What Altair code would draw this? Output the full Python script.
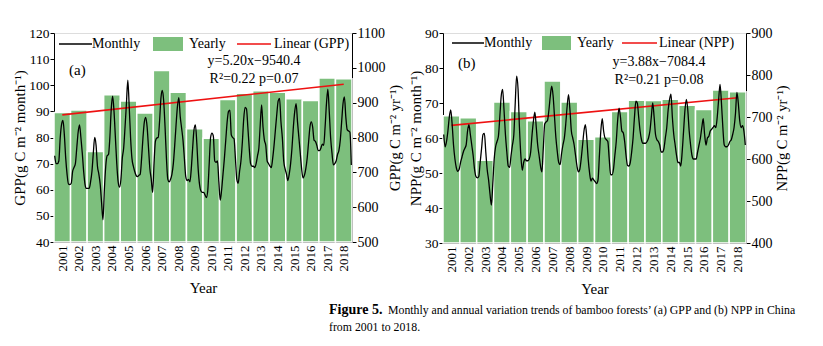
import altair as alt
import pandas as pd

years = list(range(2001, 2019))

# Monthly GPP (g C m-2 month-1), one row per year, Jan..Dec
gpp_monthly = [
    [73, 70, 70, 71, 79.8, 85, 86.5, 81, 72, 65.8, 62.2, 62],
    [62.5, 67, 68.5, 70, 76, 82, 84.8, 80, 74, 67, 62, 60.5],
    [60.5, 60.5, 63, 67, 74, 80, 77, 69, 66, 62, 55, 48.5],
    [60, 69, 73, 73.5, 80, 91, 95.8, 90, 80, 70, 63, 61],
    [64, 72, 76, 84, 93, 102, 92, 80, 72, 69, 67, 65.5],
    [65, 65.5, 66, 72, 80, 86, 87.7, 84, 76, 68, 64, 59],
    [70, 78.5, 79.8, 80, 86, 95, 98, 94, 84, 72, 64, 63],
    [64, 66, 70, 77, 85, 92, 95.3, 88, 83.6, 79, 72, 65],
    [63.5, 64, 63, 68, 76, 83, 84.8, 78, 68, 62, 59.5, 59],
    [59, 58, 57, 60, 70, 80, 81.7, 80.5, 71, 70.5, 71, 63],
    [56, 60, 66, 72, 79, 86, 90, 90.5, 81, 80, 79.5, 72],
    [64, 62.5, 67, 71, 78, 87, 91.5, 91, 84, 76, 70, 69],
    [69, 68.5, 70, 73, 76, 85, 92.5, 84, 79, 77, 71, 70],
    [69, 68.5, 72, 77, 83, 89, 94, 95, 86, 80, 71, 68],
    [66, 63.5, 66, 70, 76, 84, 90, 93, 86, 80, 74, 68],
    [64.5, 65.5, 68, 72, 78, 84, 86, 84, 79, 78.5, 77, 75],
    [75, 76, 77.5, 77, 84, 93, 98.5, 90, 80, 74, 69.5, 70],
    [71, 73.5, 75, 79, 86, 93, 95.5, 88, 83, 82.5, 82, 69.5],
]

# Monthly NPP (g C m-2 month-1)
npp_monthly = [
    [61, 57.5, 59, 62, 66, 68, 64, 58, 54, 51.5, 50.5, 51],
    [53, 54.5, 56, 57, 58, 62, 63.8, 61, 58, 55, 51, 49],
    [48.6, 49, 53, 57, 61, 61.3, 56, 51, 48, 44, 40.8, 47],
    [54, 57.5, 59, 60.5, 66, 72, 73.9, 68, 61, 56, 52, 51.6],
    [55, 58, 61, 70, 77.7, 74, 63, 55, 50.8, 53, 54, 53.5],
    [53.5, 54, 56, 61, 65, 67.4, 63, 58, 55, 52, 50.3, 57],
    [64, 64.6, 65, 68, 72, 74.8, 72, 66, 60, 56, 53, 52.4],
    [55.5, 58, 60, 64, 69, 72.4, 68, 62, 60, 58, 55, 52],
    [50.3, 51, 54, 58, 62, 63.8, 60, 54, 50, 47.7, 48.5, 48],
    [47.5, 47, 48, 55, 62, 65.5, 62, 60, 59.5, 59, 54, 49.5],
    [49.5, 51, 55, 59, 65, 68.5, 66, 62, 61.5, 59, 55, 52.2],
    [52, 53, 56, 60, 66, 70.5, 70, 66, 62, 59.5, 58.5, 58.5],
    [58.5, 59, 60, 62, 66, 70, 66, 61, 59.5, 59, 58, 56],
    [56, 57, 60, 63, 68, 71, 72.5, 66, 61, 58, 55, 53],
    [53, 52, 56, 62, 68, 71, 68, 62, 58, 55, 54, 54],
    [54, 56, 58, 60, 63, 65.5, 61, 58, 60, 60.5, 62, 62.5],
    [63, 63.5, 63, 66, 71, 75.3, 70, 63, 58, 57.5, 57.5, 58],
    [59, 59.5, 61, 63, 67, 73, 70, 65, 63, 63.5, 62, 58],
]

# Yearly totals (g C m-2 yr-1)
gpp_yearly = [872, 879, 760, 923, 905, 870, 992, 930, 825, 798, 909, 927, 934, 930, 911, 906, 971, 969]
npp_yearly = [703, 698, 597, 736, 713, 691, 786, 736, 647, 653, 713, 740, 739, 742, 728, 718, 764, 760]

# Linear trend values at first and last year
trend_years = [2001, 2018]
gpp_trend = [865, 953]
npp_trend = [680, 746]

gpp_left_ticks = [40, 50, 60, 70, 80, 90, 100, 110, 120]
gpp_right_ticks = [500, 600, 700, 800, 900, 1000, 1100]
npp_left_ticks = [30, 40, 50, 60, 70, 80, 90]
npp_right_ticks = [400, 500, 600, 700, 800, 900]

GREEN = "#7dbf7d"
RED = "#ee1111"
FONT = "Liberation Serif"


def one(label):
    return pd.DataFrame({"label": [label]})


def panel(monthly, yearly, trend, ldom, rdom, lticks, rticks, ltitle, rtitle,
          tag, tag_y, eq1, eq2, eq_x, eq_y, lin_label, leg, width, height, extra=None):
    n = len(years)
    mdf = pd.DataFrame({
        "idx": [12 * i + m for i in range(n) for m in range(12)],
        "value": [v for row in monthly for v in row],
    })
    ydf = pd.DataFrame({
        "x0": [12 * i - 0.5 for i in range(n)],
        "x1": [12 * i + 11.5 for i in range(n)],
        "value": yearly,
        "base": [rdom[0]] * n,
    })
    tdf = pd.DataFrame({
        "x": [12 * (y - years[0]) + 5.5 for y in trend_years],
        "value": trend,
    })
    xscale = alt.Scale(domain=[-0.5, 12 * n - 0.5], nice=False, zero=False)
    xaxis = alt.Axis(
        title="Year", values=[12 * i + 5.5 for i in range(n)],
        labelExpr=f"toString({years[0]} + floor(datum.value / 12))",
        labelAngle=270, labelFontSize=13, ticks=False, labelPadding=3,
        titleFontSize=15, titleFontWeight="normal", titlePadding=9,
        grid=False, domainColor="black", labelColor="black", titleColor="black",
        labelFont=FONT, titleFont=FONT,
    )
    rscale = alt.Scale(domain=rdom, nice=False, zero=False)
    lscale = alt.Scale(domain=ldom, nice=False, zero=False)
    raxis = alt.Axis(
        orient="right", values=rticks, format="d", title=rtitle, titleAngle=270,
        titleBaseline="top",
        tickSize=4, tickColor="black", labelFontSize=14, titleFontSize=14.5,
        titleFontWeight="normal", grid=False, domainColor="black",
        labelColor="black", titleColor="black", labelPadding=1, titlePadding=3,
        labelFont=FONT, titleFont=FONT)

    bars = alt.Chart(ydf).mark_bar(color=GREEN, stroke="white", strokeWidth=1.5).encode(
        x=alt.X("x0:Q", scale=xscale, axis=xaxis),
        x2="x1:Q",
        y=alt.Y("value:Q", scale=rscale, axis=raxis),
        y2="base:Q",
    )
    trend_line = alt.Chart(tdf).mark_line(color=RED, strokeWidth=1.6).encode(
        x=alt.X("x:Q", scale=xscale, axis=xaxis),
        y=alt.Y("value:Q", scale=rscale, axis=raxis),
    )
    inner = alt.layer(bars, trend_line)

    line = alt.Chart(mdf).mark_line(color="black", strokeWidth=1.3, interpolate="monotone").encode(
        x=alt.X("idx:Q", scale=xscale, axis=xaxis),
        y=alt.Y("value:Q", scale=lscale, axis=alt.Axis(
            orient="left", values=lticks, format="d", title=ltitle,
            tickSize=4, tickColor="black", labelFontSize=13.5, titleFontSize=15,
            titleFontWeight="normal", grid=False, domainColor="black",
            labelColor="black", titleColor="black", labelPadding=1, titlePadding=1,
            labelFont=FONT, titleFont=FONT)),
    )

    lx, ly = leg
    marks = [
        alt.Chart(one("m")).mark_rule(color="black", strokeWidth=1.5).encode(
            x=alt.value(lx[0]), x2=alt.value(lx[1]), y=alt.value(ly)),
        alt.Chart(one("Monthly")).mark_text(align="left", baseline="middle", fontSize=14, font=FONT).encode(
            x=alt.value(lx[1]), y=alt.value(ly), text="label:N"),
        alt.Chart(one("y")).mark_rect(color=GREEN).encode(
            x=alt.value(lx[2]), x2=alt.value(lx[3]), y=alt.value(ly - 7), y2=alt.value(ly + 7)),
        alt.Chart(one("Yearly")).mark_text(align="left", baseline="middle", fontSize=14, font=FONT).encode(
            x=alt.value(lx[4]), y=alt.value(ly), text="label:N"),
        alt.Chart(one("r")).mark_rule(color=RED, strokeWidth=1.5).encode(
            x=alt.value(lx[5]), x2=alt.value(lx[6]), y=alt.value(ly)),
        alt.Chart(one(lin_label)).mark_text(align="left", baseline="middle", fontSize=14, font=FONT).encode(
            x=alt.value(lx[7]), y=alt.value(ly), text="label:N"),
        alt.Chart(one(tag)).mark_text(align="left", baseline="middle", fontSize=15, font=FONT).encode(
            x=alt.value(15), y=alt.value(tag_y), text="label:N"),
        alt.Chart(one(eq1)).mark_text(align="center", baseline="middle", fontSize=14, font=FONT).encode(
            x=alt.value(eq_x), y=alt.value(eq_y), text="label:N"),
        alt.Chart(one(eq2)).mark_text(align="center", baseline="middle", fontSize=14, font=FONT).encode(
            x=alt.value(eq_x), y=alt.value(eq_y + 18), text="label:N"),
    ]
    if extra:
        marks += extra
    return alt.layer(inner, line, *marks).resolve_scale(y="independent").properties(
        width=width, height=height)


caption = [
    alt.Chart(one("Figure 5.")).mark_text(align="left", baseline="middle", fontSize=14,
                                          font=FONT, fontWeight="bold").encode(
        x=alt.value(275), y=alt.value(277), text="label:N"),
    alt.Chart(one("Monthly and annual variation trends of bamboo forests\u2019 (a) GPP and (b) NPP in China")).mark_text(
        align="left", baseline="middle", fontSize=11.8, font=FONT).encode(
        x=alt.value(334), y=alt.value(277), text="label:N"),
    alt.Chart(one("from 2001 to 2018.")).mark_text(align="left", baseline="middle", fontSize=11.8, font=FONT).encode(
        x=alt.value(275), y=alt.value(294), text="label:N"),
]

left = panel(gpp_monthly, gpp_yearly, gpp_trend, [40, 120], [500, 1100],
             gpp_left_ticks, gpp_right_ticks,
             "GPP(g C m\u207b\u00b2 month\u207b\u00b9)", "GPP(g C m\u207b\u00b2 yr\u207b\u00b9)",
             "(a)", 37, "y=5.20x\u22129540.4", "R\u00b2=0.22 p=0.07", 200, 28,
             "Linear (GPP)", ([5, 38, 99, 129, 135, 183, 217, 220], 11), 298, 209, extra=caption)
right = panel(npp_monthly, npp_yearly, npp_trend, [30, 90], [400, 900],
              npp_left_ticks, npp_right_ticks,
              "NPP(g C m\u207b\u00b2 month\u207b\u00b9)", "NPP(g C m\u207b\u00b2 yr\u207b\u00b9)",
              "(b)", 30, "y=3.88x\u22127084.4", "R\u00b2=0.21 p=0.08", 216, 29,
              "Linear (NPP)", ([9, 41, 99, 128, 134, 179, 214, 216], 10), 303, 210)

chart = alt.hconcat(left, right, spacing=91, bounds="flush").properties(
    padding={"left": 12, "top": 25, "right": 5, "bottom": 5}
).configure_view(stroke="black", strokeWidth=1).configure(font=FONT)

chart.save("out.html", embed_options={"renderer": "svg", "actions": False})
